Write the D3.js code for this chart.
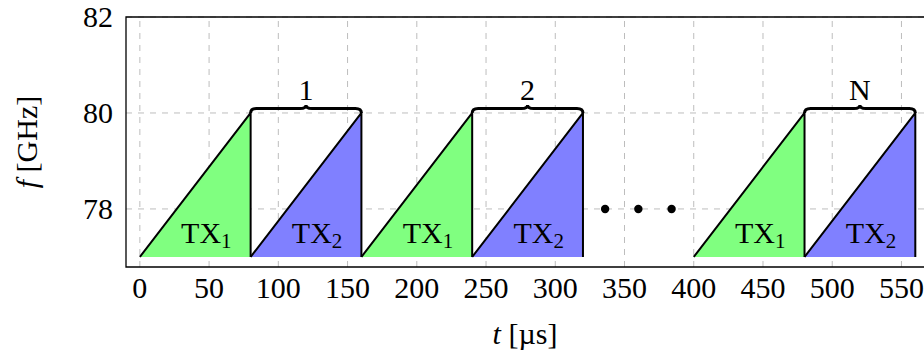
<!DOCTYPE html>
<html>
<head>
<meta charset="utf-8">
<script src="https://cdn.jsdelivr.net/npm/d3@7"></script>
</head>
<body style="margin:0; background:#fff">
<script>
// chirp data (t in µs, f in GHz)
const chirpStart = [0, 80, 160, 240, 400, 480];
const chirpTx = [1, 2, 1, 2, 1, 2];
const chirpLen = 80;
const fStart = 77;
const fStop = 80;
// frames marked with a brace
const frameStart = [80, 240, 480];
const frameLabel = ["1", "2", "N"];
// "..." dots
const dotT = [336, 360, 384];
const dotF = 78;
// ticks
const xTicks = [0, 50, 100, 150, 200, 250, 300, 350, 400, 450, 500, 550];
const yTicks = [78, 80, 82];

const width = 924, height = 356;
const fs = 30;

const x = d3.scaleLinear().domain([-10, 567]).range([126, 925]);
const y = d3.scaleLinear().domain([76.79, 82]).range([267, 17]);

const svg = d3.select("body").append("svg")
  .attr("width", width)
  .attr("height", height)
  .style("font-family", '"Liberation Serif", "Times New Roman", serif');

// grid
const grid = svg.append("g")
  .attr("stroke", "#bdbdbd")
  .attr("stroke-width", 1)
  .attr("stroke-dasharray", "6,6");
grid.selectAll("line.gx").data(xTicks).enter().append("line")
  .attr("x1", d => x(d)).attr("x2", d => x(d))
  .attr("y1", y.range()[0]).attr("y2", y.range()[1]);
grid.selectAll("line.gy").data(yTicks).enter().append("line")
  .attr("x1", x.range()[0]).attr("x2", x.range()[1])
  .attr("y1", d => y(d)).attr("y2", d => y(d));

// filled chirps
const colorTx = {1: "#80ff80", 2: "#8080ff"};
svg.append("g").selectAll("path").data(chirpStart).enter().append("path")
  .attr("d", s => `M${x(s)},${y(fStart)}L${x(s + chirpLen)},${y(fStop)}L${x(s + chirpLen)},${y(fStart)}Z`)
  .attr("fill", (s, i) => colorTx[chirpTx[i]]);

// chirp outlines
svg.append("g").selectAll("path").data(chirpStart).enter().append("path")
  .attr("d", s => `M${x(s)},${y(fStart)}L${x(s + chirpLen)},${y(fStop)}L${x(s + chirpLen)},${y(fStart)}`)
  .attr("fill", "none")
  .attr("stroke", "#000")
  .attr("stroke-width", 2)
  .attr("stroke-linejoin", "round");

// TX labels
const tx = svg.append("g").attr("font-size", fs).attr("text-anchor", "middle");
chirpStart.forEach((s, i) => {
  const t = tx.append("text")
    .attr("x", x(s + 48))
    .attr("y", y(77.3));
  t.append("tspan").text("TX");
  t.append("tspan").attr("font-size", fs * 0.7).attr("dy", 5).text(chirpTx[i]);
});

// braces
const brace = svg.append("g");
frameStart.forEach((s, i) => {
  const x0 = x(s), x1 = x(s + chirpLen), xm = (x0 + x1) / 2;
  const y0 = y(fStop), yb = y0 - 4.5, r = 6;
  brace.append("path")
    .attr("d", `M${x0},${y0}Q${x0},${yb} ${x0 + r},${yb}L${xm - r},${yb}Q${xm},${yb} ${xm},${yb - 3.5}` +
               `Q${xm},${yb} ${xm + r},${yb}L${x1 - r},${yb}Q${x1},${yb} ${x1},${y0}`)
    .attr("fill", "none")
    .attr("stroke", "#000")
    .attr("stroke-width", 3);
  brace.append("text")
    .attr("x", xm).attr("y", y0 - 13)
    .attr("text-anchor", "middle")
    .attr("font-size", fs)
    .text(frameLabel[i]);
});

// dots
svg.append("g").selectAll("circle").data(dotT).enter().append("circle")
  .attr("cx", d => x(d)).attr("cy", y(dotF)).attr("r", 4.2).attr("fill", "#000");

// axes frame
svg.append("path")
  .attr("d", `M${x.range()[1]},${y.range()[1]}H${x.range()[0]}V${y.range()[0]}H${x.range()[1]}`)
  .attr("fill", "none")
  .attr("stroke", "#000")
  .attr("stroke-width", 1.3);

// tick labels
svg.append("g").attr("font-size", fs).attr("text-anchor", "middle")
  .selectAll("text").data(xTicks).enter().append("text")
  .attr("x", d => x(d)).attr("y", 298).text(d => d);
svg.append("g").attr("font-size", fs).attr("text-anchor", "end")
  .selectAll("text").data(yTicks).enter().append("text")
  .attr("x", 113).attr("y", d => y(d) + 10).text(d => d);

// axis labels
const xl = svg.append("text").attr("x", 525).attr("y", 344)
  .attr("text-anchor", "middle").attr("font-size", fs);
xl.append("tspan").attr("font-style", "italic").text("t");
xl.append("tspan").text(" [µs]");

const yl = svg.append("text")
  .attr("transform", `translate(37,${(y.range()[0] + y.range()[1]) / 2}) rotate(-90)`)
  .attr("text-anchor", "middle").attr("font-size", fs);
yl.append("tspan").attr("font-style", "italic").text("f");
yl.append("tspan").text(" [GHz]");
</script>
</body>
</html>
